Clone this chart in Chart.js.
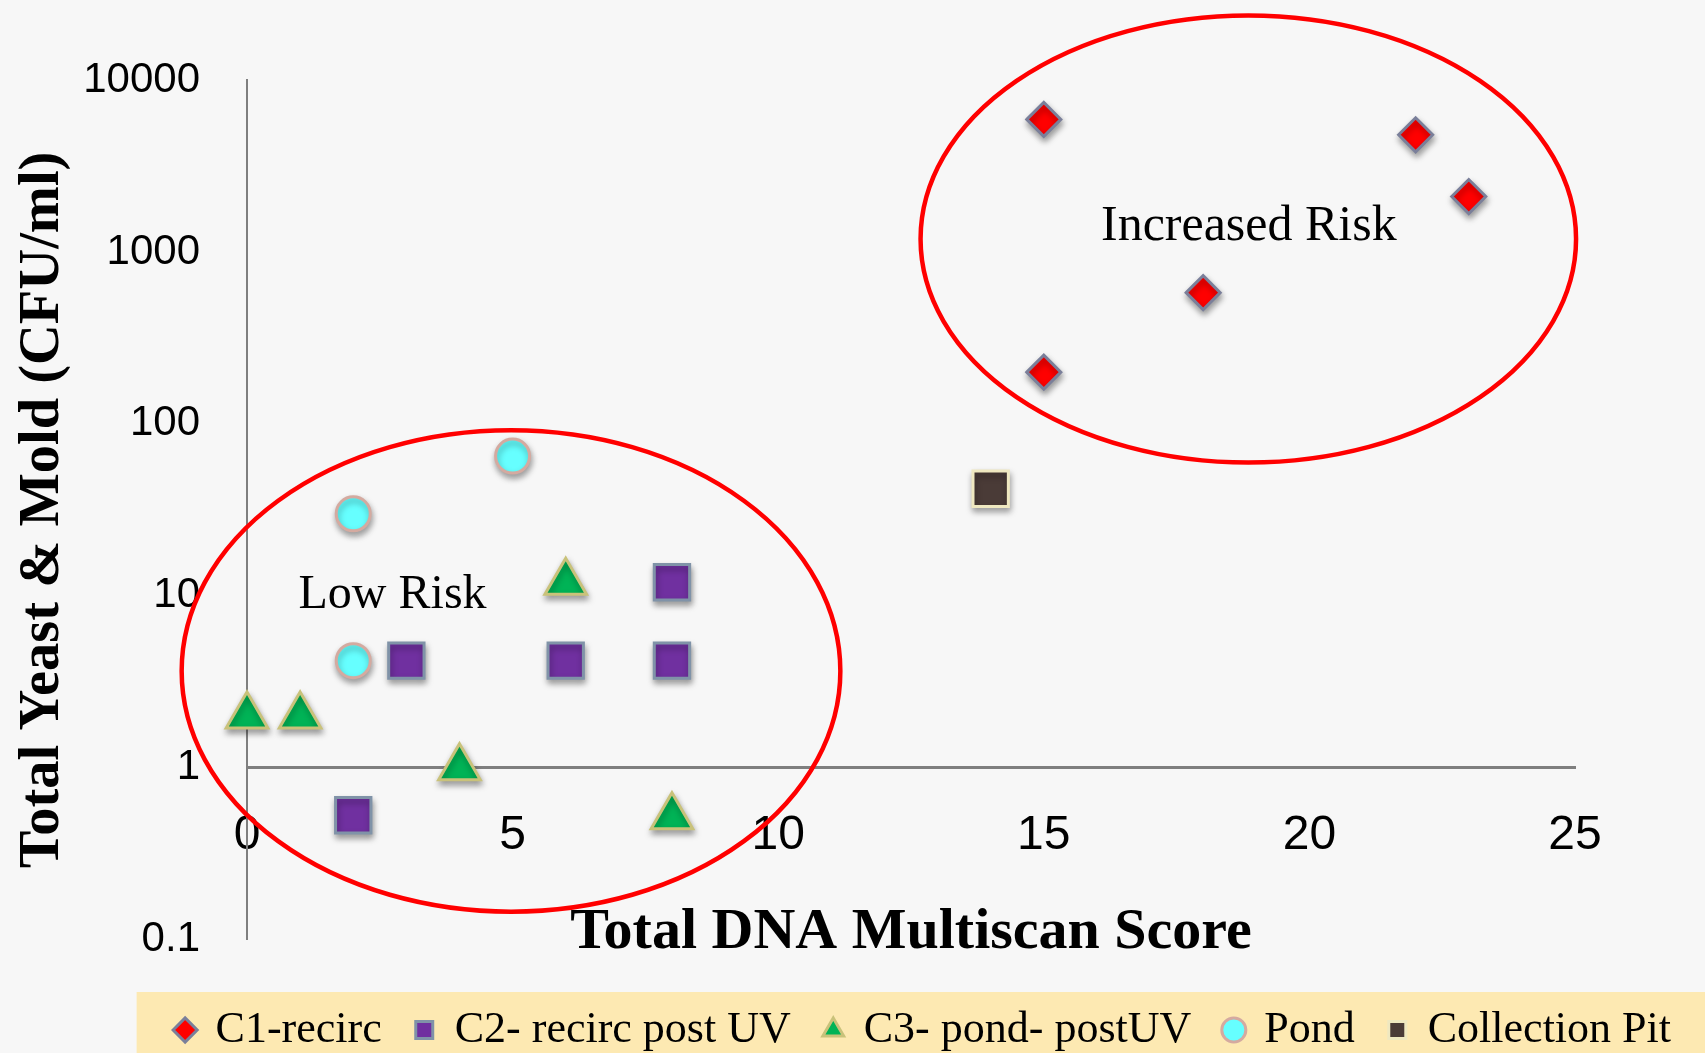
<!DOCTYPE html>
<html lang="en">
  <head>
    <meta charset="UTF-8" />
    <title>Total Yeast & Mold vs Total DNA Multiscan Score</title>
    <script src="https://cdn.jsdelivr.net/npm/chart.js"></script>
    <style>
      html, body { margin: 0; padding: 0; background: #f7f7f7; }
      #wrap { width: 1705px; height: 1053px; }
    </style>
  </head>
  <body>
    <div id="wrap"><canvas id="myChart"></canvas></div>

    <script>
      // values (x = DNA multiscan score, y = CFU/ml)
      var c1X = [15, 22, 23, 18, 15];
      var c1Y = [5900, 4800, 2100, 580, 200];
      var c2X = [8, 3, 6, 8, 2];
      var c2Y = [12, 4.2, 4.2, 4.2, 0.53];
      var c3X = [0, 1, 6, 4, 8];
      var c3Y = [2, 2, 12, 1, 0.52];
      var pondX = [5, 2, 2];
      var pondY = [65, 30, 4.2];
      var pitX = [14];
      var pitY = [42];

      var seriesNames = ["C1-recirc", "C2- recirc post UV", "C3- pond- postUV", "Pond", "Collection Pit"];
      var xTicks = [0, 5, 10, 15, 20, 25];
      var yTicks = [0.1, 1, 10, 100, 1000, 10000];

      function pts(xs, ys) {
        return xs.map(function (x, i) { return { x: x, y: ys[i] }; });
      }

      // risk zones, in data units (x units / decades of y)
      var zones = [
        { label: "Increased Risk", cx: 18.85, cy: 1190, rx: 6.17, ry: 1.30, tx: 18.86, ty: 1390, size: 50 },
        { label: "Low Risk", cx: 4.97, cy: 3.66, rx: 6.2, ry: 1.40, tx: 2.74, ty: 10, size: 48 }
      ];

      var backdrop = {
        id: "backdrop",
        beforeDraw: function (chart) {
          var ctx = chart.ctx;
          ctx.save();
          ctx.fillStyle = "#f7f7f7";
          ctx.fillRect(0, 0, chart.width, chart.height);
          var lg = chart.legend;
          if (lg && lg.legendHitBoxes.length) {
            var hb = lg.legendHitBoxes[0];
            var left = hb.left - 40;
            var top = hb.top + hb.height / 2 - 38;
            ctx.fillStyle = "#fde9b2";
            ctx.fillRect(left, top, chart.width - left, chart.height - top);
          }
          ctx.restore();
        }
      };

      var shadows = {
        id: "shadows",
        beforeDatasetsDraw: function (chart) {
          var ctx = chart.ctx;
          ctx.save();
          ctx.shadowColor = "rgba(0,0,0,0.35)";
          ctx.shadowBlur = 6;
          ctx.shadowOffsetX = 1;
          ctx.shadowOffsetY = 4;
        },
        afterDatasetsDraw: function (chart) {
          chart.ctx.restore();
        }
      };

      var riskZones = {
        id: "riskZones",
        afterDatasetsDraw: function (chart) {
          var ctx = chart.ctx;
          var xs = chart.scales.x;
          var ys = chart.scales.y;
          ctx.save();
          zones.forEach(function (z) {
            var px = xs.getPixelForValue(z.cx);
            var py = ys.getPixelForValue(z.cy);
            var rx = xs.getPixelForValue(z.cx + z.rx) - px;
            var ry = py - ys.getPixelForValue(z.cy * Math.pow(10, z.ry));
            ctx.beginPath();
            ctx.ellipse(px, py, rx, ry, 0, 0, Math.PI * 2);
            ctx.strokeStyle = "#ff0000";
            ctx.lineWidth = 4.5;
            ctx.stroke();
            ctx.fillStyle = "#000";
            ctx.font = z.size + "px 'Liberation Serif'";
            ctx.textAlign = "center";
            ctx.textBaseline = "middle";
            ctx.fillText(z.label, xs.getPixelForValue(z.tx), ys.getPixelForValue(z.ty));
          });
          ctx.restore();
        }
      };

      var ctx = document.getElementById("myChart").getContext("2d");
      new Chart(ctx, {
        type: "scatter",
        data: {
          datasets: [
            {
              label: seriesNames[0],
              data: pts(c1X, c1Y),
              pointStyle: "rectRot",
              pointRadius: 17,
              backgroundColor: "#ff0000",
              borderColor: "#7a7f9a",
              borderWidth: 3,
              clip: false
            },
            {
              label: seriesNames[1],
              data: pts(c2X, c2Y),
              pointStyle: "rect",
              pointRadius: 25,
              backgroundColor: "#7030a0",
              borderColor: "#8093a8",
              borderWidth: 3,
              clip: false
            },
            {
              label: seriesNames[2],
              data: pts(c3X, c3Y),
              pointStyle: "triangle",
              pointRadius: 24,
              backgroundColor: "#00b356",
              borderColor: "#c9c27a",
              borderWidth: 3,
              clip: false
            },
            {
              label: seriesNames[3],
              data: pts(pondX, pondY),
              pointStyle: "circle",
              pointRadius: 17,
              backgroundColor: "#66ffff",
              borderColor: "#d4aaa0",
              borderWidth: 3,
              clip: false
            },
            {
              label: seriesNames[4],
              data: pts(pitX, pitY),
              pointStyle: "rect",
              pointRadius: 25,
              backgroundColor: "#4a3b37",
              borderColor: "#efe8c0",
              borderWidth: 3,
              clip: false
            }
          ]
        },
        options: {
          responsive: true,
          maintainAspectRatio: false,
          animation: false,
          layout: { padding: { top: 80, right: 0, left: 0, bottom: -9 } },
          scales: {
            x: {
              type: "linear",
              position: { y: 1 },
              min: 0,
              max: 25,
              afterBuildTicks: function (scale) {
                scale.ticks = xTicks.map(function (v) { return { value: v }; });
              },
              afterFit: function (scale) { scale.height = 30; },
              grid: { drawOnChartArea: false, drawTicks: false },
              border: { color: "#7f7f7f", width: 3 },
              ticks: {
                color: "#000",
                padding: 39,
                font: { family: "'Liberation Sans Narrow', 'Liberation Sans'", size: 48 }
              },
              title: {
                display: true,
                text: "Total DNA Multiscan Score",
                color: "#000",
                padding: { top: 0, bottom: -170 },
                font: { family: "Liberation Serif", size: 58, weight: "bold" }
              }
            },
            y: {
              type: "logarithmic",
              position: "left",
              min: 0.1,
              max: 10000,
              afterBuildTicks: function (scale) {
                scale.ticks = yTicks.map(function (v) { return { value: v }; });
              },
              afterFit: function (scale) { scale.width = 247; },
              grid: { drawOnChartArea: false, drawTicks: false },
              border: { color: "#7f7f7f", width: 2 },
              ticks: {
                color: "#000",
                padding: 47,
                font: { family: "Liberation Sans", size: 42 },
                callback: function (value) { return String(value); }
              },
              title: {
                display: true,
                text: "Total Yeast & Mold (CFU/ml)",
                color: "#000",
                padding: { top: 10, bottom: 0 },
                font: { family: "Liberation Serif", size: 56.5, weight: "bold" }
              }
            },
            // empty strip on the right of the plot, as on the slide
            yPad: {
              type: "linear",
              position: "right",
              afterFit: function (scale) { scale.width = 130; },
              grid: { display: false },
              border: { display: false },
              ticks: { display: false }
            }
          },
          plugins: {
            legend: {
              position: "bottom",
              align: "end",
              title: { display: true, text: " ", font: { size: 1 }, padding: { top: 33, bottom: 0 } },
              labels: {
                usePointStyle: true,
                boxWidth: 17,
                boxHeight: 17,
                padding: 34,
                color: "#000",
                font: { family: "Liberation Serif", size: 44 }
              }
            },
            tooltip: { enabled: false }
          }
        },
        plugins: [backdrop, shadows, riskZones]
      });
    </script>
  </body>
</html>
